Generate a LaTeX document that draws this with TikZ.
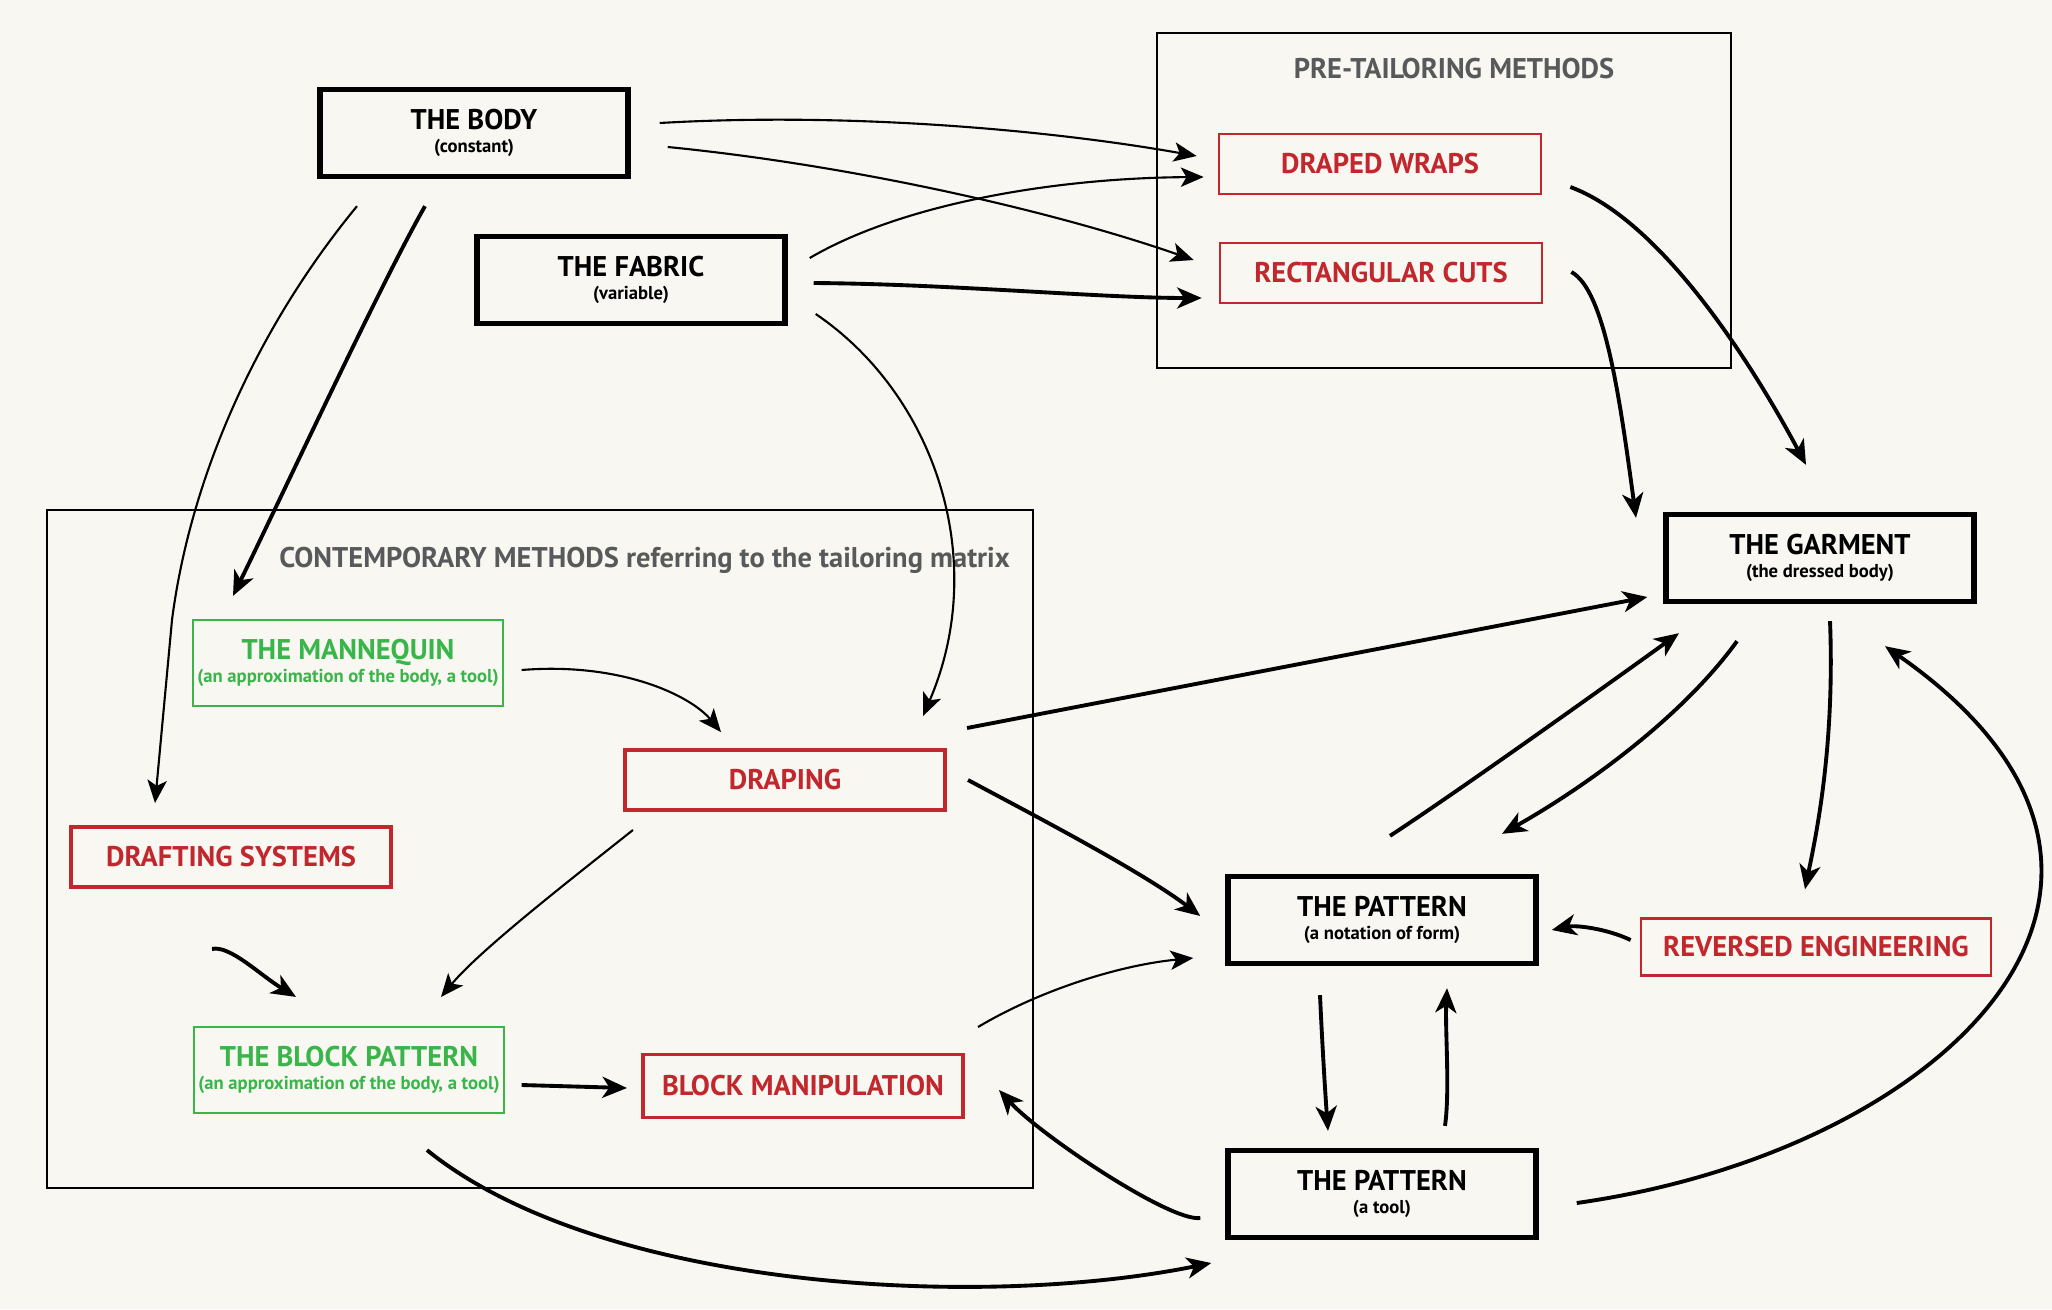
\documentclass[tikz,border=0pt]{standalone}
\usepackage{fontspec}
\setmainfont{PT Sans}
\usetikzlibrary{arrows.meta}

\definecolor{paper}{HTML}{F8F7F1}
\definecolor{methodred}{HTML}{C1272D}
\definecolor{toolgreen}{HTML}{39B54A}
\definecolor{framegray}{HTML}{58595B}

\newcommand{\titlesz}{\fontsize{8.1}{9}\selectfont\bfseries}
\newcommand{\subline}[1]{{\fontsize{5.3}{6}\selectfont #1}}

\tikzset{
  basebox/.style={rectangle,inner sep=0pt,align=center,font=\titlesz},
  blackbox/.style={basebox,draw=black,line width=1.5pt},
  redbox/.style={basebox,draw=methodred,text=methodred,line width=1.1pt},
  thinred/.style={redbox,line width=0.7pt},
  greenbox/.style={basebox,draw=toolgreen,text=toolgreen,line width=0.6pt},
  framelabel/.style={text=framegray,font=\titlesz},
  thinarrow/.style={-{Stealth[length=6.5pt,width=5.5pt,inset=1.6pt]},line width=0.6pt},
  thickarrow/.style={-{Stealth[length=7pt,width=6pt,inset=2pt]},line width=1.1pt}
}

\begin{document}
\begin{tikzpicture}[x=0.01cm,y=-0.01cm]
\useasboundingbox (0,0) rectangle (2052,1309);
\fill[paper] (0,0) rectangle (2052,1309);

% frames
\draw[line width=0.6pt] (1157,33) rectangle (1731,368);
\draw[line width=0.6pt] (47,510) rectangle (1033,1188);
\node[framelabel] (prelabel) at (1454,69) {PRE-TAILORING METHODS};
\node[framelabel,anchor=west] (contlabel) at (267,560) {CONTEMPORARY METHODS referring to the tailoring matrix};

% nodes
\begin{scope}[every node/.style={blackbox,minimum width=3.08cm,minimum height=0.87cm}]
  \node (body) at (474,133) {THE BODY\\[-2.5pt]\subline{(constant)}};
  \node (fabric) at (631,280) {THE FABRIC\\[-2.5pt]\subline{(variable)}};
  \node (garment) at (1820,558) {THE GARMENT\\[-2.5pt]\subline{(the dressed body)}};
  \node (notation) at (1382,920) {THE PATTERN\\[-2.5pt]\subline{(a notation of form)}};
  \node (tool) at (1382,1194) {THE PATTERN\\[-2.5pt]\subline{(a tool)}};
\end{scope}

\begin{scope}[every node/.style={thinred,minimum width=3.22cm,minimum height=0.6cm}]
  \node (wraps) at (1380,164) {DRAPED WRAPS};
  \node (cuts) at (1381,273) {RECTANGULAR CUTS};
  \node[minimum width=3.5cm,minimum height=0.57cm] (reverse) at (1816,947) {REVERSED ENGINEERING};
\end{scope}

\begin{scope}[every node/.style={redbox,minimum width=3.2cm,minimum height=0.6cm}]
  \node (draping) at (785,780) {DRAPING};
  \node (drafting) at (231,857) {DRAFTING SYSTEMS};
  \node[minimum height=0.63cm] (manip) at (803,1086) {BLOCK MANIPULATION};
\end{scope}

\begin{scope}[every node/.style={greenbox,minimum width=3.09cm,minimum height=0.86cm}]
  \node (mannequin) at (348,663) {THE MANNEQUIN\\[-2.5pt]\subline{(an approximation of the body, a tool)}};
  \node (block) at (349,1070) {THE BLOCK PATTERN\\[-2.5pt]\subline{(an approximation of the body, a tool)}};
\end{scope}

% connectors
\begin{scope}[thinarrow]
  \draw ([shift={(29,-10)}]body.east) .. controls (850,112) and (1050,130) .. ([shift={(-21,-8)}]wraps.west);
  \draw ([shift={(37,14)}]body.east) .. controls (850,165) and (1050,210) .. ([shift={(-25,-13)}]cuts.west);
  \draw ([shift={(22,-22)}]fabric.east) .. controls (900,205) and (1050,178) .. ([shift={(-14,13)}]wraps.west);
  \draw ([shift={(28,34)}]fabric.east) .. controls (935,395) and (990,560) .. ([shift={(138,-32)}]draping.north);
  \draw ([shift={(-117,27)}]body.south) .. controls (255,330) and (190,480) .. (172,620) -- ([shift={(-76,-22)}]drafting.north);
  \draw ([shift={(18,7)}]mannequin.east) .. controls (620,662) and (690,695) .. ([shift={(-64,-16)}]draping.north);
  \draw ([shift={(-152,18)}]draping.south) .. controls (570,880) and (480,950) .. ([shift={(92,-29)}]block.north);
  \draw ([shift={(13,-59)}]manip.east) .. controls (1040,990) and (1120,965) .. ([shift={(-32,38)}]notation.west);
\end{scope}

\begin{scope}[thickarrow]
  \draw ([shift={(26,3)}]fabric.east) .. controls (950,284) and (1100,298) .. ([shift={(-17,25)}]cuts.west);
  \draw ([shift={(-49,27)}]body.south) .. controls (380,285) and (280,500) .. ([shift={(-115,-23)}]mannequin.north);
  \draw ([shift={(28,23)}]wraps.east) .. controls (1660,220) and (1750,360) .. ([shift={(-14,-47)}]garment.north);
  \draw ([shift={(28,-1)}]cuts.east) .. controls (1605,290) and (1620,400) .. ([shift={(-184,6)}]garment.north);
  \draw ([shift={(20,-52)}]draping.east) -- ([shift={(-16,39)}]garment.west);
  \draw ([shift={(-19,60)}]drafting.south) .. controls (230,945) and (260,975) .. ([shift={(-53,-29)}]block.north);
  \draw ([shift={(17,15)}]block.east) -- ([shift={(-14,2)}]manip.west);
  \draw ([shift={(21,0)}]draping.east) .. controls (1020,808) and (1140,870) .. ([shift={(-25,-4)}]notation.west);
  \draw ([shift={(8,-38)}]notation.north) .. controls (1460,790) and (1600,690) .. ([shift={(-141,29)}]garment.south);
  \draw ([shift={(-83,37)}]garment.south) .. controls (1680,720) and (1580,790) .. ([shift={(120,-40)}]notation.north);
  \draw ([shift={(10,17)}]garment.south) .. controls (1835,750) and (1815,840) .. ([shift={(-11,-28)}]reverse.north);
  \draw ([shift={(-9,-7)}]reverse.west) .. controls (1605,928) and (1575,925) .. ([shift={(13,10)}]notation.east);
  \draw ([shift={(-62,29)}]notation.south) .. controls (1322,1040) and (1325,1090) .. ([shift={(-54,-17)}]tool.north);
  \draw ([shift={(63,-22)}]tool.north) .. controls (1450,1090) and (1445,1030) .. ([shift={(65,22)}]notation.south);
  \draw ([shift={(38,9)}]tool.east) .. controls (1950,1150) and (2220,880) .. ([shift={(65,42)}]garment.south);
  \draw ([shift={(-25,24)}]tool.west) .. controls (1170,1222) and (1040,1135) .. ([shift={(34,4)}]manip.east);
  \draw ([shift={(78,36)}]block.south) .. controls (600,1290) and (980,1310) .. ([shift={(-14,69)}]tool.west);
\end{scope}
\end{tikzpicture}
\end{document}
